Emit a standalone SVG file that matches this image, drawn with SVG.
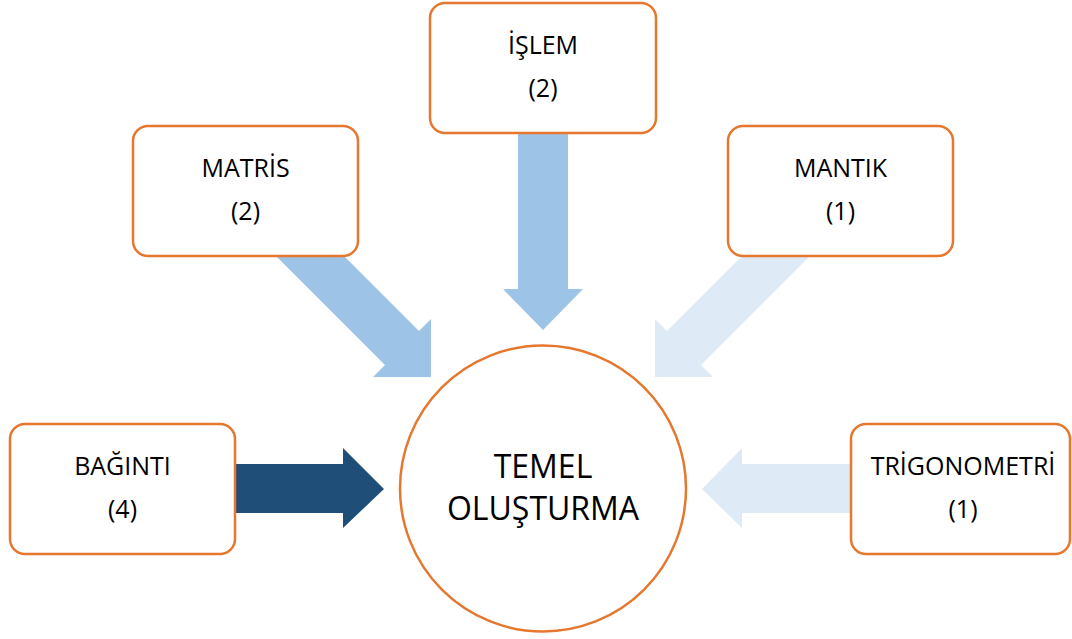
<svg xmlns="http://www.w3.org/2000/svg" width="1072" height="639" viewBox="0 0 1072 639">
  <style>
    .box { fill: #ffffff; stroke: #E5772F; stroke-width: 2.5; }
    .lbl { font-family: "Open Sans", "Liberation Sans", sans-serif; font-size: 25px; fill: #000000; text-anchor: middle; }
    .big { font-family: "Open Sans", "Liberation Sans", sans-serif; font-size: 32px; fill: #000000; text-anchor: middle; }
    .mid { fill: #9DC3E6; }
    .pale { fill: #DEEBF7; }
    .dark { fill: #1F4E79; }
  </style>
  <rect width="1072" height="639" fill="#ffffff"/>

  <!-- block arrows pointing into the centre circle -->
  <g id="connectors">
    <polygon class="mid" points="518,131 568,131 568,289 583,289 543,330 503,289 518,289"/>
    <polygon class="mid" points="276,256 344,256 419,331 431,319 431,377 373,377 385,365"/>
    <polygon class="pale" points="810,256 742,256 667,331 655,319 655,377 713,377 701,365"/>
    <polygon class="dark" points="233,464 343,464 343,448 384,489 343,528 343,513 233,513"/>
    <polygon class="pale" points="853,464 742,464 742,448 702,489 742,528 742,513 853,513"/>
  </g>

  <g id="node-islem">
    <rect class="box" x="430" y="3" width="226" height="130" rx="15"/>
    <text class="lbl" x="543" y="54">İŞLEM</text>
    <text class="lbl" x="543" y="97">(2)</text>
  </g>

  <g id="node-matris">
    <rect class="box" x="133" y="126" width="225" height="130" rx="15"/>
    <text class="lbl" x="245.5" y="177">MATRİS</text>
    <text class="lbl" x="245.5" y="220">(2)</text>
  </g>

  <g id="node-mantik">
    <rect class="box" x="728" y="126" width="225" height="130" rx="15"/>
    <text class="lbl" x="840.5" y="177">MANTIK</text>
    <text class="lbl" x="840.5" y="220">(1)</text>
  </g>

  <g id="node-baginti">
    <rect class="box" x="10" y="424" width="225" height="130" rx="15"/>
    <text class="lbl" x="122.5" y="475">BAĞINTI</text>
    <text class="lbl" x="122.5" y="518">(4)</text>
  </g>

  <g id="node-trigonometri">
    <rect class="box" x="851" y="424" width="219" height="130" rx="15"/>
    <text class="lbl" x="963" y="475">TRİGONOMETRİ</text>
    <text class="lbl" x="963" y="518">(1)</text>
  </g>

  <g id="node-temel">
    <circle class="box" cx="543" cy="488.5" r="143"/>
    <text class="big" x="543" y="478">TEMEL</text>
    <text class="big" x="543" y="520">OLUŞTURMA</text>
  </g>
</svg>
